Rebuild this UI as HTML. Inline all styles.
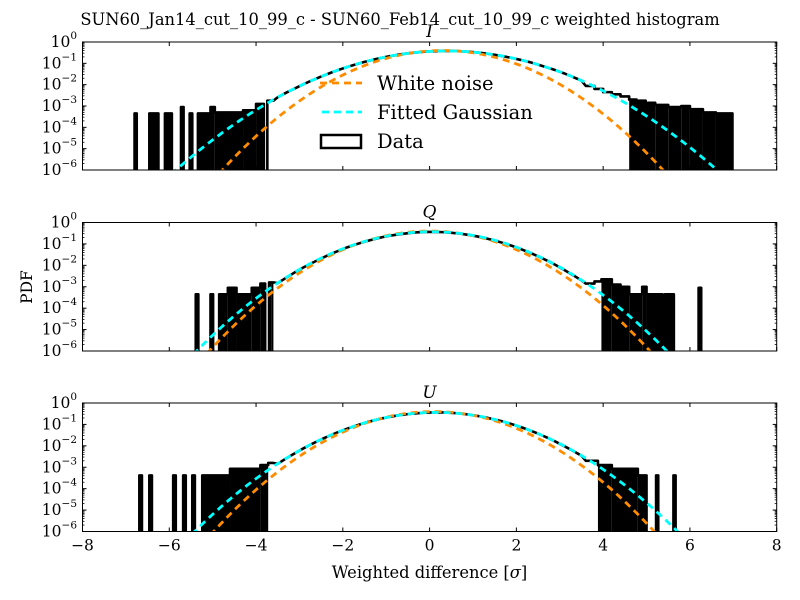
<!DOCTYPE html>
<html><head><meta charset="utf-8"><style>
html,body{margin:0;padding:0;background:#fff;}
svg{display:block;font-family:"DejaVu Serif","Liberation Serif",serif;}
</style></head><body>
<svg id="chart" width="800" height="600" viewBox="0 0 800 600" xmlns="http://www.w3.org/2000/svg">
<rect width="800" height="600" fill="#fff"/>
<text x="400" y="25" text-anchor="middle" font-size="16.3">SUN60_Jan14_cut_10_99_c - SUN60_Feb14_cut_10_99_c weighted histogram</text>
<text x="32" y="287" text-anchor="middle" font-size="15.5" transform="rotate(-90 32 287)">PDF</text>
<text x="429.5" y="578" text-anchor="middle" font-size="16.3">Weighted difference [<tspan font-style="italic">σ</tspan>]</text>
<g id="panels"></g>
</svg>
<script>
// ---- data ----
const panelNames = ["I", "Q", "U"];
const xTicks = [-8, -6, -4, -2, 0, 2, 4, 6, 8];
const yDecades = [0, -1, -2, -3, -4, -5, -6];
const coreStart = -3.6, coreWidth = 0.2;

const iLeftEdges = [-6.8,-6.75,-6.46,-6.25,-6.1,-5.94,-5.73,-5.67,-5.53,-5.47,-5.34,-5.05,-4.95,-4.3,-4.0,-3.82,-3.74,-3.6];
const iLeftVals = [-3.35,null,-3.35,null,-3.35,null,-3.05,null,-3.35,null,-3.35,-3.05,-3.3,-3.2,-2.9,null,-2.75];
const iCoreVals = [-2.59,-2.37,-2.17,-1.97,-1.79,-1.62,-1.46,-1.31,-1.17,-1.05,-0.93,-0.83,-0.74,-0.66,-0.59,-0.53,-0.49,-0.45,-0.43,-0.42,-0.42,-0.43,-0.46,-0.49,-0.54,-0.60,-0.67,-0.75,-0.84,-0.94,-1.06,-1.19,-1.32,-1.47,-1.64,-1.81];
const iRightEdges = [3.6,3.8,4.0,4.2,4.4,4.6,4.77,4.82,4.98,5.03,5.2,5.5,5.8,6.0,6.3,6.6,6.98];
const iRightVals = [-2.06,-2.2,-2.35,-2.45,-2.55,-2.7,null,-2.75,null,-2.85,-2.95,-3.05,-3.0,-3.15,-3.3,-3.35];

const qLeftEdges = [-5.39,-5.33,-5.05,-4.99,-4.85,-4.65,-4.45,-4.1,-3.9,-3.79,-3.7,-3.65,-3.6];
const qLeftVals = [-3.35,null,-3.35,null,-3.35,-3.05,-3.35,-3.05,-2.85,null,-2.8,-2.8];
const qCoreVals = [-2.83,-2.57,-2.32,-2.09,-1.88,-1.68,-1.49,-1.32,-1.16,-1.02,-0.90,-0.79,-0.69,-0.61,-0.55,-0.50,-0.46,-0.44,-0.44,-0.45,-0.48,-0.52,-0.58,-0.65,-0.74,-0.84,-0.96,-1.09,-1.24,-1.40,-1.58,-1.77,-1.98,-2.21,-2.45,-2.70];
const qRightEdges = [3.6,3.8,3.96,4.2,4.4,4.6,4.9,5.0,5.37,5.42,5.63,6.2,6.26];
const qRightVals = [-2.85,-2.75,-2.65,-2.9,-3.0,-3.35,-3.0,-3.35,null,-3.35,null,-3.05];

const uLeftEdges = [-6.69,-6.63,-6.46,-6.4,-5.91,-5.85,-5.68,-5.62,-5.47,-5.41,-5.24,-4.6,-3.9,-3.72,-3.6];
const uLeftVals = [-3.38,null,-3.38,null,-3.38,null,-3.38,null,-3.38,null,-3.38,-3.07,-2.9,-2.8];
const uCoreVals = [-2.84,-2.58,-2.34,-2.11,-1.90,-1.70,-1.52,-1.35,-1.20,-1.06,-0.93,-0.82,-0.72,-0.64,-0.57,-0.52,-0.48,-0.45,-0.44,-0.44,-0.46,-0.49,-0.54,-0.60,-0.68,-0.77,-0.87,-0.99,-1.12,-1.27,-1.43,-1.61,-1.80,-2.01,-2.23,-2.46];
const uRightEdges = [3.6,3.88,4.2,4.8,5.0,5.22,5.27,5.62,5.67];
const uRightVals = [-2.7,-2.9,-3.07,-3.38,null,-3.38,null,-3.38];

const iSolid = [[-6.85,-3.7],[4.6,7]];
const qSolid = [[-5.4,-3.6],[3.96,6.3]];
const uSolid = [[-6.7,-3.7],[3.88,5.7]];

// Gaussian parameters (log10 peak, mean, sigma)
const whitePeak = [-0.40, -0.40, -0.40];
const whiteMu = [0.3, 0.0, 0.1];
const whiteSigma = [1.0, 1.0, 1.0];
const fitPeak = [-0.42, -0.43, -0.44];
const fitMu = [0.39, 0.05, 0.15];
const fitSigma = [1.23, 1.07, 1.10];

// ---- layout ----
const X0 = 82.5, X1 = 776.7, XMIN = -8, XMAX = 8;
const panelBox = [[42, 170], [222.5, 351], [403, 531.5]];
const NS = "http://www.w3.org/2000/svg";
function xs(v){ return X0 + (v - XMIN) / (XMAX - XMIN) * (X1 - X0); }
function mk(tag, attrs, parent){ const e = document.createElementNS(NS, tag); for (const k in attrs) e.setAttribute(k, attrs[k]); parent.appendChild(e); return e; }

const leftE = [iLeftEdges, qLeftEdges, uLeftEdges];
const leftV = [iLeftVals, qLeftVals, uLeftVals];
const coreV = [iCoreVals, qCoreVals, uCoreVals];
const rightE = [iRightEdges, qRightEdges, uRightEdges];
const rightV = [iRightVals, qRightVals, uRightVals];
const solids = [iSolid, qSolid, uSolid];

const root = document.getElementById("panels");
for (let p = 0; p < 3; p++) {
  const top = panelBox[p][0], bot = panelBox[p][1];
  const ys = v => top + (0 - v) / 6 * (bot - top);
  const g = mk("g", {}, root);
  
  
  const cp = mk("clipPath", {id: "clip" + p}, g);
  mk("rect", {x: X0, y: top, width: X1 - X0, height: bot - top}, cp);

  const edges = leftE[p].slice();
  for (let i = 1; i <= coreV[p].length; i++) edges.push(+(coreStart + coreWidth * i).toFixed(4));
  rightE[p].slice(1).forEach(e => edges.push(e));
  const vals = leftV[p].concat(coreV[p], rightV[p]);
  const nLeft = leftV[p].length, nCore = coreV[p].length;

  const hg = mk("g", {"clip-path": "url(#clip" + p + ")"}, g);
  
  
  for (let i = 0; i < vals.length; i++) {
    if (vals[i] === null) continue;
    const c = (edges[i] + edges[i + 1]) / 2;
    const inSolid = solids[p].some(r => c >= r[0] && c <= r[1]);
    if (!inSolid) continue;
    const r = mk("rect", {x: xs(edges[i]), y: ys(vals[i]), width: xs(edges[i + 1]) - xs(edges[i]), height: bot - ys(vals[i]), fill: "#000"}, hg);
    
    
  }
  let d = "M" + xs(edges[0]) + "," + bot;
  for (let i = 0; i < vals.length; i++) {
    const yv = vals[i] === null ? bot + 2 : ys(vals[i]);
    const isCore = i >= nLeft && i < nLeft + nCore;
    if (isCore) {
      d += " L" + xs((edges[i] + edges[i + 1]) / 2) + "," + yv;
    } else {
      d += " L" + xs(edges[i]) + "," + yv + " L" + xs(edges[i + 1]) + "," + yv;
    }
  }
  d += " L" + xs(edges[edges.length - 1]) + "," + (bot + 2);
  const hp = mk("path", {d: d, fill: "none", stroke: "#000", "stroke-width": 2.6, "stroke-linejoin": "round"}, hg);
  
  

  function gauss(peak, mu, sig, color, name) {
    let s = "";
    for (let k = 0; k <= 400; k++) {
      const x = XMIN + k * (XMAX - XMIN) / 400;
      const lv = peak - 0.4342945 * (x - mu) * (x - mu) / (2 * sig * sig);
      if (lv < -6.6) continue;
      s += (s ? " L" : "M") + xs(x).toFixed(2) + "," + ys(lv).toFixed(2);
    }
    const el = mk("path", {d: s, fill: "none", stroke: color, "stroke-width": 2.8, "stroke-dasharray": "7,5"}, hg);
    
    
  }
  gauss(whitePeak[p], whiteMu[p], whiteSigma[p], "#ff8c00", "white-noise-curve");
  gauss(fitPeak[p], fitMu[p], fitSigma[p], "#00ffff", "fitted-gaussian-curve");

  const fr = mk("rect", {x: X0, y: top, width: X1 - X0, height: bot - top, fill: "none", stroke: "#000", "stroke-width": 1}, g);
  
  

  xTicks.forEach(t => {
    const x = xs(t);
    mk("line", {x1: x, x2: x, y1: bot, y2: bot - 4, stroke: "#000", "stroke-width": 1}, g);
    mk("line", {x1: x, x2: x, y1: top, y2: top + 4, stroke: "#000", "stroke-width": 1}, g);
    if (p === 2) {
      const tl = mk("text", {x: x, y: bot + 19, "text-anchor": "middle", "font-size": 15.5}, g);
      tl.textContent = (t < 0 ? "\u2212" : "") + Math.abs(t);
      
      
    }
  });
  yDecades.forEach(dv => {
    const y = ys(dv);
    mk("line", {x1: X0, x2: X0 + 4, y1: y, y2: y, stroke: "#000"}, g);
    mk("line", {x1: X1, x2: X1 - 4, y1: y, y2: y, stroke: "#000"}, g);
    if (dv > -6) for (let m = 2; m <= 9; m++) {
      const ym = ys(dv - 1 + Math.log10(m));
      mk("line", {x1: X0, x2: X0 + 2, y1: ym, y2: ym, stroke: "#000", "stroke-width": 0.8}, g);
      mk("line", {x1: X1, x2: X1 - 2, y1: ym, y2: ym, stroke: "#000", "stroke-width": 0.8}, g);
    }
    const tl = mk("text", {x: 77, y: y + 5, "text-anchor": "end", "font-size": 15.5}, g);
    
    
    tl.appendChild(document.createTextNode("10"));
    const sp = mk("tspan", {dy: -8, "font-size": 10.5}, tl);
    sp.textContent = dv === 0 ? "0" : "\u2212" + Math.abs(dv);
  });
  const tt = mk("text", {x: 429.5, y: top - 5, "text-anchor": "middle", "font-size": 17, "font-style": "italic"}, g);
  tt.textContent = panelNames[p];
  
  
}

const lg = mk("g", {}, root);


const l1 = mk("line", {x1: 320, x2: 362, y1: 83, y2: 83, stroke: "#ff8c00", "stroke-width": 2.8, "stroke-dasharray": "7,5"}, lg);


const l2 = mk("line", {x1: 322, x2: 362, y1: 112, y2: 112, stroke: "#00ffff", "stroke-width": 2.8, "stroke-dasharray": "7,5"}, lg);


const l3 = mk("rect", {x: 321, y: 135, width: 40, height: 13, fill: "none", stroke: "#000", "stroke-width": 2.5}, lg);


[["White noise", 90], ["Fitted Gaussian", 119], ["Data", 148]].forEach(e => {
  const t = mk("text", {x: 377, y: e[1], "font-size": 19.5}, lg);
  t.textContent = e[0];
  
  
});
</script>
</body></html>
